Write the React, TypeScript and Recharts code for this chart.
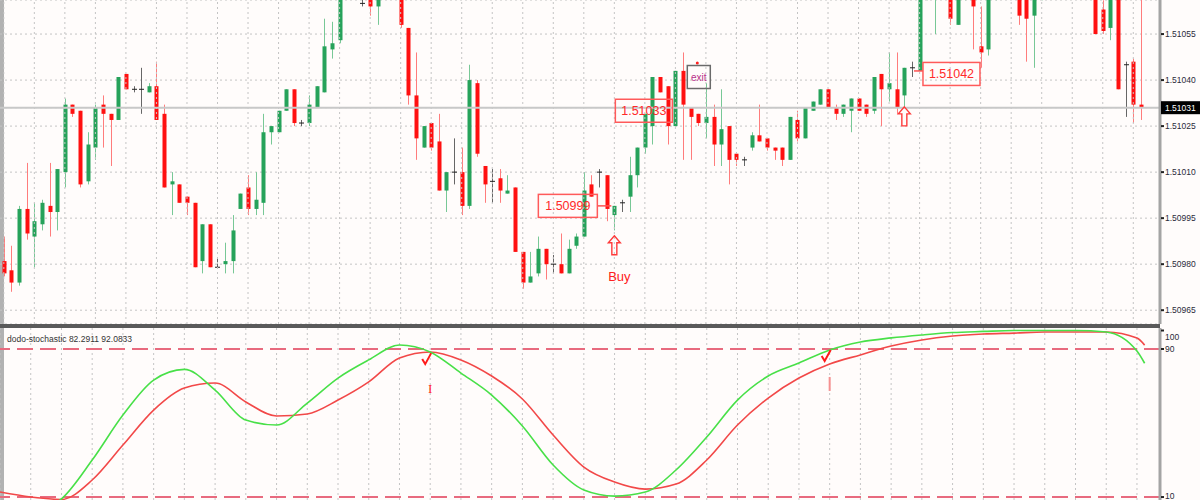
import React from 'react';
import {
    ComposedChart,
    Bar,
    Line,
    XAxis,
    YAxis,
    CartesianGrid,
    ReferenceLine,
    ReferenceDot
} from 'recharts';

// EURUSD-like M-bars, 150 candles
const opens = [
    1.50981, 1.50978, 1.50974, 1.50998, 1.50989, 1.50993, 1.50999, 1.50997, 1.51010, 1.51032,
    1.51030, 1.51007, 1.51018, 1.51032, 1.51029, 1.51027, 1.51042, 1.51037, 1.51037, 1.51036,
    1.51038, 1.51029, 1.51006, 1.51006, 1.51002, 1.51000, 1.50981, 1.50993, 1.50979, 1.50980,
    1.50981, 1.50998, 1.51005, 1.50998, 1.51000, 1.51023, 1.51023, 1.51030, 1.51037, 1.51026,
    1.51026, 1.51031, 1.51036, 1.51050, 1.51053, 1.51068, 1.51075, 1.51065, 1.51067, 1.51064,
    1.51070, 1.51072, 1.51070, 1.51057, 1.51035, 1.51018, 1.51026, 1.51020, 1.51004, 1.51010,
    1.51010, 1.50999, 1.51039, 1.51012, 1.51007, 1.51008, 1.51003, 1.51005, 1.50984, 1.50974,
    1.50977, 1.50985, 1.50980, 1.50980, 1.50977, 1.50986, 1.50989, 1.51006, 1.51010, 1.51009,
    1.50996, 1.51000, 1.51002, 1.51009, 1.51018, 1.51025, 1.51041, 1.51038, 1.51025, 1.51043,
    1.51031, 1.51029, 1.51026, 1.51028, 1.51019, 1.51025, 1.51016, 1.51014, 1.51018, 1.51022,
    1.51021, 1.51018, 1.51018, 1.51014, 1.51027, 1.51021, 1.51030, 1.51032, 1.51037, 1.51031,
    1.51029, 1.51030, 1.51034, 1.51032, 1.51030, 1.51042, 1.51037, 1.51037, 1.51035, 1.51044,
    1.51043, 1.51068, 1.51068, 1.51073, 1.51068, 1.51058, 1.51068, 1.51067, 1.51051, 1.51050,
    1.51068, 1.51074, 1.51077, 1.51068, 1.51068, 1.51061, 1.51067, 1.51073, 1.51078, 1.51082,
    1.51079, 1.51081, 1.51076, 1.51070, 1.51063, 1.51057, 1.51068, 1.51045, 1.51046, 1.51032
];

const highs = [
    1.50989, 1.50986, 1.50999, 1.51013, 1.51000, 1.51001, 1.51013, 1.51011, 1.51034, 1.51032,
    1.51030, 1.51023, 1.51032, 1.51035, 1.51029, 1.51041, 1.51042, 1.51038, 1.51044, 1.51039,
    1.51046, 1.51032, 1.51010, 1.51006, 1.51002, 1.51000, 1.50993, 1.50993, 1.50982, 1.50987,
    1.50996, 1.51003, 1.51009, 1.51010, 1.51029, 1.51025, 1.51030, 1.51037, 1.51037, 1.51027,
    1.51035, 1.51038, 1.51060, 1.51059, 1.51072, 1.51078, 1.51080, 1.51070, 1.51070, 1.51068,
    1.51075, 1.51078, 1.51072, 1.51057, 1.51049, 1.51025, 1.51026, 1.51029, 1.51010, 1.51021,
    1.51018, 1.51045, 1.51040, 1.51012, 1.51011, 1.51011, 1.51009, 1.51005, 1.50984, 1.50984,
    1.50989, 1.50985, 1.50983, 1.50990, 1.50988, 1.50990, 1.51010, 1.51009, 1.51011, 1.51009,
    1.50999, 1.51001, 1.51015, 1.51018, 1.51029, 1.51041, 1.51041, 1.51038, 1.51043, 1.51049,
    1.51031, 1.51029, 1.51039, 1.51032, 1.51037, 1.51025, 1.51016, 1.51015, 1.51023, 1.51032,
    1.51021, 1.51018, 1.51018, 1.51028, 1.51030, 1.51031, 1.51033, 1.51037, 1.51037, 1.51032,
    1.51032, 1.51034, 1.51034, 1.51032, 1.51041, 1.51042, 1.51049, 1.51049, 1.51044, 1.51046,
    1.51070, 1.51075, 1.51076, 1.51078, 1.51070, 1.51070, 1.51074, 1.51070, 1.51064, 1.51070,
    1.51076, 1.51080, 1.51080, 1.51070, 1.51070, 1.51070, 1.51075, 1.51080, 1.51085, 1.51086,
    1.51084, 1.51085, 1.51080, 1.51072, 1.51066, 1.51070, 1.51070, 1.51046, 1.51047, 1.51068
];

const lows = [
    1.50976, 1.50971, 1.50973, 1.50988, 1.50979, 1.50991, 1.50989, 1.50991, 1.51005, 1.51028,
    1.51005, 1.51006, 1.51014, 1.51018, 1.51012, 1.51027, 1.51037, 1.51036, 1.51029, 1.51036,
    1.51027, 1.51005, 1.50996, 1.51000, 1.50996, 1.50979, 1.50977, 1.50979, 1.50979, 1.50977,
    1.50977, 1.50998, 1.50996, 1.50996, 1.50996, 1.51019, 1.51023, 1.51030, 1.51025, 1.51025,
    1.51025, 1.51031, 1.51036, 1.51047, 1.51052, 1.51067, 1.51068, 1.51064, 1.51061, 1.51058,
    1.51067, 1.51068, 1.51057, 1.51032, 1.51014, 1.51018, 1.51017, 1.51004, 1.50997, 1.51006,
    1.50996, 1.50998, 1.51015, 1.51000, 1.51000, 1.51000, 1.51003, 1.50984, 1.50972, 1.50974,
    1.50976, 1.50975, 1.50977, 1.50977, 1.50977, 1.50985, 1.50989, 1.51002, 1.51005, 1.50994,
    1.50991, 1.50997, 1.50997, 1.51005, 1.51016, 1.51019, 1.51036, 1.51019, 1.51025, 1.51014,
    1.51014, 1.51025, 1.51021, 1.51012, 1.51012, 1.51006, 1.51012, 1.51012, 1.51017, 1.51020,
    1.51017, 1.51014, 1.51012, 1.51014, 1.51020, 1.51021, 1.51030, 1.51032, 1.51031, 1.51027,
    1.51028, 1.51023, 1.51030, 1.51028, 1.51029, 1.51025, 1.51033, 1.51029, 1.51031, 1.51041,
    1.51043, 1.51066, 1.51055, 1.51068, 1.51058, 1.51058, 1.51066, 1.51050, 1.51044, 1.51048,
    1.51066, 1.51070, 1.51070, 1.51058, 1.51046, 1.51044, 1.51066, 1.51070, 1.51074, 1.51076,
    1.51073, 1.51074, 1.51070, 1.51055, 1.51055, 1.51053, 1.51037, 1.51028, 1.51026, 1.51027
];

const closes = [
    1.50977, 1.50974, 1.50998, 1.50990, 1.50994, 1.51000, 1.50997, 1.51011, 1.51032, 1.51029,
    1.51006, 1.51019, 1.51031, 1.51029, 1.51027, 1.51041, 1.51037, 1.51037, 1.51037, 1.51038,
    1.51027, 1.51005, 1.51007, 1.51000, 1.51000, 1.50979, 1.50993, 1.50979, 1.50979, 1.50981,
    1.50991, 1.51003, 1.50998, 1.51001, 1.51023, 1.51025, 1.51030, 1.51037, 1.51026, 1.51026,
    1.51032, 1.51038, 1.51051, 1.51052, 1.51068, 1.51075, 1.51070, 1.51065, 1.51064, 1.51067,
    1.51072, 1.51074, 1.51058, 1.51035, 1.51021, 1.51025, 1.51018, 1.51004, 1.51010, 1.51010,
    1.50999, 1.51040, 1.51016, 1.51006, 1.51007, 1.51004, 1.51004, 1.50984, 1.50974, 1.50976,
    1.50985, 1.50980, 1.50980, 1.50977, 1.50985, 1.50989, 1.51004, 1.51002, 1.51010, 1.50998,
    1.50999, 1.51000, 1.51009, 1.51018, 1.51029, 1.51041, 1.51036, 1.51025, 1.51043, 1.51032,
    1.51028, 1.51026, 1.51028, 1.51019, 1.51024, 1.51014, 1.51014, 1.51014, 1.51022, 1.51020,
    1.51018, 1.51017, 1.51014, 1.51028, 1.51021, 1.51031, 1.51033, 1.51037, 1.51031, 1.51029,
    1.51032, 1.51034, 1.51030, 1.51029, 1.51041, 1.51037, 1.51039, 1.51031, 1.51044, 1.51044,
    1.51068, 1.51072, 1.51073, 1.51070, 1.51060, 1.51067, 1.51071, 1.51064, 1.51049, 1.51067,
    1.51074, 1.51077, 1.51072, 1.51061, 1.51060, 1.51067, 1.51073, 1.51078, 1.51082, 1.51079,
    1.51081, 1.51076, 1.51072, 1.51055, 1.51056, 1.51067, 1.51037, 1.51045, 1.51032, 1.51031
];

// stochastic sampled on bar indexes
const stochIdx = [
    0, 4, 8, 12, 16, 20, 24, 28, 32, 36, 40, 44, 48, 52, 56, 60, 64, 68, 72, 76,
    80, 84, 88, 92, 96, 100, 104, 108, 112, 116, 120, 124, 128, 132, 136, 140, 144, 148, 149
];
const stochMain = [
    0, 1.5, 9, 30, 54.3, 73.2, 79, 67.8, 51.6, 48.9, 60.8, 74.3, 84.1, 92.2, 88.4, 77, 65.1, 48.4, 27.3, 13.8,
    10.5, 12.7, 24.6, 42.4, 62.4, 75.4, 82.4, 89.5, 93.8, 96, 97.6, 98.9, 99.5, 100, 100, 100, 99.2, 88.9, 82.3
];
const stochSignal = [
    12.7, 10, 8.7, 19.2, 38.1, 57, 68.9, 71.6, 61.4, 53.8, 54.9, 62.4, 72.2, 85.1, 88.4, 84.1, 75.4, 63, 43.5, 26.2,
    18.1, 14.3, 17, 30, 48.9, 63.5, 74.3, 81.9, 86.8, 91.6, 94.9, 97, 98.1, 98.6, 99.2, 99.2, 99.2, 95.9, 92.1
];

const priceTicks = [1.51055, 1.5104, 1.51031, 1.51025, 1.5101, 1.50995, 1.5098, 1.50965];
const currentPrice = 1.51031;
const stochTicks = [100, 90, 10];
const stochLevels = [90, 10];

const SLOTS = 152;
const GREEN = '#26a25a';
const RED = '#ff1010';
const FONT = '"Liberation Sans", Arial, sans-serif';

const rows = Array.from({ length: SLOTS }, (_, i) => {
    const has = i < opens.length;
    const s = stochIdx.indexOf(i);
    return {
        i,
        o: has ? opens[i] : null,
        h: has ? highs[i] : null,
        l: has ? lows[i] : null,
        c: has ? closes[i] : null,
        range: has ? [lows[i], highs[i]] : null,
        k: s >= 0 ? stochMain[s] : null,
        d: s >= 0 ? stochSignal[s] : null
    };
});

const gridIdx = rows.filter(r => r.i % 4 === 0 && r.i < 150).map(r => r.i);

const Candle = (props: any) => {
    const { x, y, width, height, payload } = props;
    if (!payload || payload.o == null) return null;
    const { o, h, l, c } = payload;
    const top = Math.min(y, y + height);
    const per = Math.abs(height) / (h - l);
    const py = (p: number) => top + (h - p) * per;
    const cx = Math.round(x + width / 2) + 0.5;
    const body = c > o ? GREEN : c < o ? RED : '#222';
    const wick = c > o ? '#78c896' : c < o ? '#ff7c7c' : '#666';
    const bt = py(Math.max(o, c));
    const bb = py(Math.min(o, c));
    return (
        <g>
            <line x1={cx} x2={cx} y1={py(h)} y2={py(l)} stroke={wick} strokeWidth={1} />
            {c === o
                ? <line x1={cx - 2.5} x2={cx + 2.5} y1={bt} y2={bt} stroke={body} strokeWidth={1} />
                : <rect x={cx - 2} y={bt} width={4} height={Math.max(1, bb - bt)} fill={body} />}
        </g>
    );
};

const PriceTick = ({ x, y, payload }: any) => {
    const v = payload.value;
    if (v === currentPrice) {
        return (
            <g>
                <rect x={x + 1} y={y - 6.5} width={40} height={13} fill="#000" />
                <text x={x + 5} y={y + 3.2} fontSize={8.5} fill="#fff" fontFamily={FONT}>{v.toFixed(5)}</text>
            </g>
        );
    }
    return (
        <g>
            <line x1={x + 1} x2={x + 4} y1={y} y2={y} stroke="#222" strokeWidth={2} />
            <text x={x + 5} y={y + 3.2} fontSize={8.5} fill="#2a2a3a" fontFamily={FONT}>{v.toFixed(5)}</text>
        </g>
    );
};

const StochTick = ({ x, y, payload }: any) => {
    const v = payload.value;
    const dy = v === 100 ? 9.5 : v === 10 ? 1.5 : 3.2;
    return (
        <g>
            <line x1={x + 1} x2={x + 4} y1={y} y2={y} stroke="#222" strokeWidth={2} />
            <text x={x + 5} y={y + dy} fontSize={8.5} fill="#2a2a3a" fontFamily={FONT}>{v}</text>
        </g>
    );
};

const LeftLabel = ({ cx, cy, text }: any) => (
    <g>
        <line x1={cx - 17} x2={cx - 3} y1={cy} y2={cy} stroke="#ff5050" strokeWidth={1.5} />
        <rect x={cx - 76} y={cy - 11.5} width={59} height={23} fill="none" stroke="#ff5a5a" strokeWidth={1.5} />
        <text x={cx - 46.5} y={cy + 4.5} textAnchor="middle" fontSize={12.5} fill="#ff2a2a" fontFamily={FONT}>{text}</text>
    </g>
);

const RightLabel = ({ cx, cy, text, gap }: any) => (
    <g>
        {gap > 2 && <line x1={cx + 2} x2={cx + gap} y1={cy - 3} y2={cy - 3} stroke="#ff5050" strokeWidth={1.5} />}
        <rect x={cx + gap} y={cy - 11.5} width={57} height={23} fill="none" stroke="#ff5a5a" strokeWidth={1.5} />
        <text x={cx + gap + 28.5} y={cy + 4.5} textAnchor="middle" fontSize={12.5} fill="#ff2a2a" fontFamily={FONT}>{text}</text>
    </g>
);

const ExitLabel = ({ cx, cy }: any) => (
    <g>
        <circle cx={cx - 1} cy={cy - 14} r={1.5} fill="#ff2020" />
        <rect x={cx - 11} y={cy - 11.5} width={23} height={23} fill="none" stroke="#6a6a6a" strokeWidth={1.5} />
        <text x={cx + 0.5} y={cy + 3.5} textAnchor="middle" fontSize={10} fill="#b8308a" fontFamily={FONT}>exit</text>
    </g>
);

const UpArrow = ({ cx, cy }: any) => (
    <path
        d={`M${cx},${cy - 10} L${cx + 6},${cy - 3} L${cx + 2.5},${cy - 3} L${cx + 2.5},${cy + 9} L${cx - 2.5},${cy + 9} L${cx - 2.5},${cy - 3} L${cx - 6},${cy - 3} Z`}
        fill="none"
        stroke="#ff3a3a"
        strokeWidth={1.4}
    />
);

const BuyText = ({ cx, cy }: any) => (
    <text x={cx + 5} y={cy + 5} textAnchor="middle" fontSize={13} fill="#ff2020" fontFamily={FONT}>Buy</text>
);

const CrossMark = ({ cx, cy, faded }: any) => (
    <g>
        <path d={`M${cx - 8},${cy - 1} L${cx - 5},${cy + 4} L${cx + 1},${cy - 7}`} fill="none" stroke="#ff1a1a" strokeWidth={2} />
        {faded
            ? <line x1={cx} x2={cx} y1={cy + 20} y2={cy + 34} stroke="#f59090" strokeWidth={2} />
            : <text x={cx} y={cy + 33} textAnchor="middle" fontSize={13} fill="#ff1a1a" fontFamily='"Liberation Serif", serif'>I</text>}
    </g>
);

const App: React.FC = () => {
    return (
        <div style={{ position: 'fixed', left: 0, top: 0, width: 1200, height: 500, background: '#fffcfb', overflow: 'hidden' }}>
            <div style={{ position: 'absolute', left: 0, top: 0, width: 4, height: 500, background: '#b2b2b2' }} />

            <div style={{ position: 'absolute', left: 0, top: 0 }}>
                <ComposedChart width={1200} height={324} data={rows} margin={{ top: 0, right: 0, bottom: 0, left: 0 }}>
                    <CartesianGrid vertical={false} stroke="#c4c4c4" strokeDasharray="2 3" />
                    {gridIdx.map(i => (
                        <ReferenceLine key={`g-${i}`} x={i} stroke="#c4c4c4" strokeDasharray="2 3" />
                    ))}
                    <ReferenceLine y={currentPrice} stroke="#c8c8c8" strokeWidth={2} />
                    <XAxis dataKey="i" hide />
                    <YAxis
                        orientation="right"
                        width={40}
                        domain={[1.509605, 1.510661]}
                        allowDataOverflow
                        ticks={priceTicks}
                        interval={0}
                        tick={<PriceTick />}
                        tickLine={false}
                        tickSize={0}
                        tickMargin={0}
                        axisLine={{ stroke: '#a4a4a4', strokeWidth: 3 }}
                    />
                    <ReferenceDot x={80} y={1.5103} r={0} shape={(p: any) => <RightLabel {...p} text="1.51033" gap={1} />} />
                    <ReferenceDot x={80} y={1.50999} r={0} shape={(p: any) => <LeftLabel {...p} text="1.50999" />} />
                    <ReferenceDot x={119} y={1.51042} r={0} shape={(p: any) => <RightLabel {...p} text="1.51042" gap={11} />} />
                    <ReferenceDot x={91} y={1.51041} r={0} shape={(p: any) => <ExitLabel {...p} />} />
                    <ReferenceDot x={80} y={1.50986} r={0} shape={(p: any) => <UpArrow {...p} />} />
                    <ReferenceDot x={80} y={1.50976} r={0} shape={(p: any) => <BuyText {...p} />} />
                    <ReferenceDot x={118} y={1.51028} r={0} shape={(p: any) => <UpArrow {...p} />} />
                    <Bar dataKey="range" shape={Candle} isAnimationActive={false} />
                </ComposedChart>
            </div>

            <div style={{ position: 'absolute', left: 0, top: 324, width: 1160, height: 4, background: '#5a5a5a' }} />

            <div style={{ position: 'absolute', left: 0, top: 328 }}>
                <ComposedChart width={1200} height={172} data={rows} margin={{ top: 0, right: 0, bottom: 0, left: 0 }}>
                    {gridIdx.map(i => (
                        <ReferenceLine key={`s-${i}`} x={i} stroke="#c4c4c4" strokeDasharray="2 3" />
                    ))}
                    {stochLevels.map(v => (
                        <ReferenceLine key={`l-${v}`} y={v} stroke="#e86a7e" strokeWidth={2} strokeDasharray="16 7" />
                    ))}
                    <XAxis dataKey="i" hide />
                    <YAxis
                        orientation="right"
                        width={40}
                        domain={[8.4, 101.35]}
                        allowDataOverflow
                        ticks={stochTicks}
                        interval={0}
                        tick={<StochTick />}
                        tickLine={false}
                        tickSize={0}
                        tickMargin={0}
                        axisLine={{ stroke: '#a4a4a4', strokeWidth: 3 }}
                    />
                    <Line type="monotone" dataKey="d" stroke="#f24848" strokeWidth={1.6} dot={false} connectNulls isAnimationActive={false} />
                    <Line type="monotone" dataKey="k" stroke="#48e048" strokeWidth={1.6} dot={false} connectNulls isAnimationActive={false} />
                    <ReferenceDot x={56} y={84} r={0} shape={(p: any) => <CrossMark {...p} />} />
                    <ReferenceDot x={108} y={85.7} r={0} shape={(p: any) => <CrossMark {...p} faded />} />
                </ComposedChart>
            </div>

            <div style={{ position: 'absolute', left: 7, top: 334, fontFamily: FONT, fontSize: 8.5, color: '#333', whiteSpace: 'nowrap' }}>
                dodo-stochastic 82.2911 92.0833
            </div>
        </div>
    );
};

export default App;
